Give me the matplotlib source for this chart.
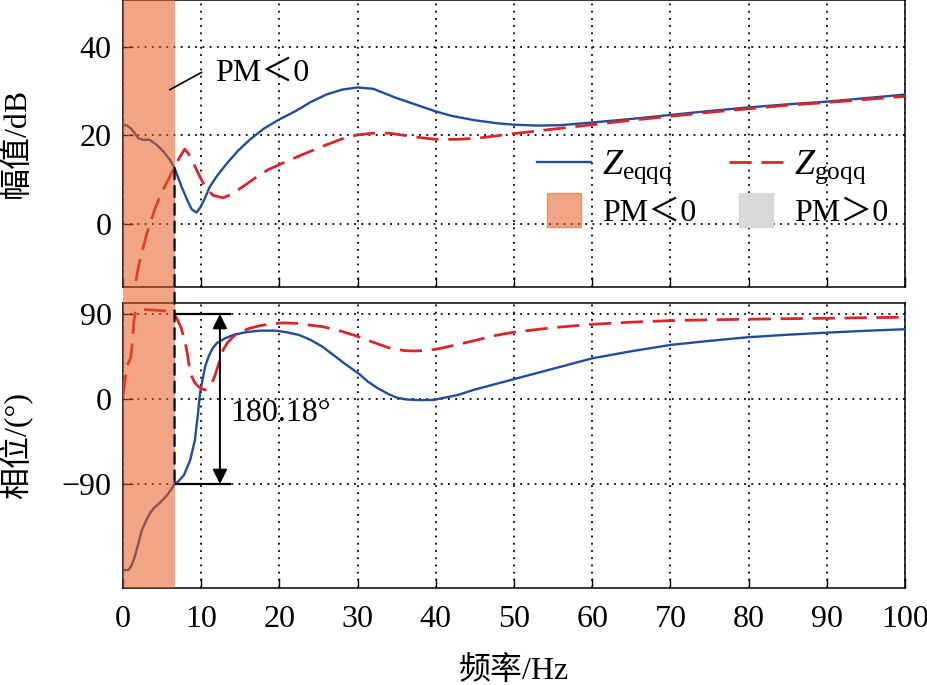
import numpy as np
import matplotlib
matplotlib.use('Agg')
import matplotlib.pyplot as plt
from matplotlib.lines import Line2D
from matplotlib.patches import ConnectionPatch

plt.rcParams['font.family'] = ['Liberation Serif', 'Noto Sans CJK SC']
plt.rcParams['mathtext.fontset'] = 'custom'
plt.rcParams['mathtext.rm'] = 'Liberation Serif'
plt.rcParams['mathtext.it'] = 'Liberation Serif:italic'
plt.rcParams['font.size'] = 23

# ---------------- data ----------------
f_mag_eq = [0, 0.5, 1.0, 1.5, 2.0, 2.6, 3.4, 4.3, 5.2, 6.0, 6.6, 7.5, 8.2, 8.8, 9.4, 9.9,
            10.4, 11.1, 12.0, 13.3, 14.7, 16.2, 18.0, 20, 22, 24, 26, 28, 30, 32, 35, 38,
            40, 42, 45, 48, 50, 53, 56, 60, 65, 70, 75, 80, 85, 90, 95, 100]
mag_eq = [22.4, 22.2, 21.6, 20.5, 19.3, 19.0, 19.0, 17.9, 16.3, 14.5, 12.6, 8.4, 5.5, 3.3, 2.6, 3.8,
          5.5, 8.4, 10.8, 13.7, 16.5, 19.0, 21.5, 23.6, 25.4, 27.5, 29.2, 30.3, 30.8, 30.5, 28.4, 26.6,
          25.4, 24.4, 23.4, 22.7, 22.4, 22.2, 22.3, 22.9, 23.7, 24.6, 25.5, 26.3, 27.0, 27.6, 28.4, 29.2]

f_mag_go = [1.2, 1.5, 2.0, 2.4, 3.0, 3.5, 4.1, 4.7, 5.3, 5.8, 6.6, 7.3, 7.9, 8.4, 9.0, 9.8,
            10.5, 11.5, 12.8, 14.0, 15.3, 17.0, 18.5, 20.5, 23, 25.5, 28, 30, 32, 34, 36, 38,
            40, 43, 46, 50, 55, 60, 65, 70, 75, 80, 85, 90, 95, 100]
mag_go = [-20, -14.2, -9.5, -6.6, -2.5, 0.2, 3.5, 6.1, 8.3, 10.0, 12.9, 15.2, 16.9, 15.8, 13.8, 10.8,
          8.4, 6.5, 5.9, 6.8, 8.4, 10.5, 12.2, 13.8, 15.7, 17.5, 19.2, 20.1, 20.5, 20.5, 20.0, 19.5,
          19.1, 19.1, 19.5, 20.4, 21.4, 22.4, 23.4, 24.3, 25.2, 26.0, 26.8, 27.4, 28.1, 28.8]

f_ph_eq = [0, 0.7, 1.1, 1.5, 2.0, 2.4, 3.0, 3.45, 4.0, 4.7, 5.3, 5.8, 6.3, 6.6, 7.0, 7.8, 8.6,
           9.2, 9.6, 9.85, 10.1, 10.5, 11.0, 11.5, 12.0, 13.0, 14.1, 15.8, 17.5, 19.6, 21.0, 22.5, 24.0,
           25.5, 27.0, 28.5, 30.1, 31.3, 32.6, 34.0, 35.0, 36.2, 38.0, 39.7, 41.0, 42.8, 45.0,
           47.5, 49.9, 55, 60, 65, 70, 75, 79.8, 85, 90, 95, 100]
ph_eq = [-181, -181, -176, -167, -152, -139, -128, -121, -115, -110, -105, -100, -94, -89.3, -88, -80.5, -64.6,
         -43.4, -15, 6, 17, 34, 46, 54, 59, 64, 67.8, 70.8, 72.3, 72.3, 70.5, 67.8, 62.5,
         55.4, 46, 36.5, 27.2, 18.5, 11.3, 5, 1.5, -0.5, -1.2, -1, 1.2, 4.2, 10,
         15.5, 20.8, 32, 43, 50.5, 57.2, 61.5, 65.3, 68, 70.2, 72.2, 73.8]

f_ph_go = [0, 0.2, 0.4, 0.6, 0.8, 1.0, 1.2, 1.4, 1.6, 2.0, 3.0, 4.0, 5.0, 6.0, 6.5, 6.9, 7.4,
           7.9, 8.3, 8.6, 9.2, 9.8, 10.5, 11.1, 11.6, 12.0, 12.4, 12.8, 13.4, 14.1, 15.0, 16.2,
           17.5, 18.8, 20.5, 22.5, 24, 25.5, 28, 30.1, 32, 34.2, 36, 37.2, 38.5, 40, 42.5, 45.3,
           47.5, 49.9, 55, 60, 65, 70, 75, 80, 85, 90, 95, 100]
ph_go = [2.5, 15, 28, 36, 40, 44, 60, 82, 93, 95, 94.5, 94, 93.5, 92.8, 91, 85, 76,
         62.5, 45, 27.2, 17, 12, 9.5, 13, 21, 30.7, 42, 51.9, 60, 66, 71, 74.8,
         77.5, 79.4, 80.5, 80, 78, 76.6, 71.5, 66, 60, 53.6, 51.2, 50.8, 51.2, 52.6, 57, 62.5,
         67, 70.6, 75.5, 79, 81.3, 82.9, 83.8, 84.4, 85, 85.4, 86, 86.5]

pm_boundary = 6.6
x_ticks = list(range(0, 101, 10))
mag_ticks = [0, 20, 40]
ph_ticks = [-90, 0, 90]
phase_jump_label = '180.18°'
legend_labels = [r'$Z_{\mathrm{eqqq}}$', r'$Z_{\mathrm{goqq}}$', 'PM＜0', 'PM＞0']

# ---------------- style ----------------
blue = '#1f4e9c'
red = '#d9262a'
orange = (231/255, 89/255, 28/255)
orange_alpha = 0.54
gray = '#d9d9d9'
dash = (0, (8, 3.5))

fig = plt.figure(figsize=(9.28, 6.85), dpi=100)
ax1 = fig.add_axes([0.1325, 0.581, 0.8427, 0.4195])
ax2 = fig.add_axes([0.1325, 0.1416, 0.8427, 0.4161])

for ax in (ax1, ax2):
    ax.set_xlim(0, 100)
    ax.set_xticks(x_ticks)
    ax.grid(True, color='k', linestyle=(0, (1, 3)), linewidth=1.3)
    ax.tick_params(direction='in', length=7, width=1.0, pad=8)
    ax.tick_params(axis='x', pad=12)
    for s in ax.spines.values():
        s.set_linewidth(1.1)

ax1.plot(f_mag_eq, mag_eq, color=blue, lw=1.7, zorder=3)
ax1.plot(f_mag_go, mag_go, color=red, lw=2.0, ls=dash, zorder=3)
ax1.set_ylim(-14.2, 50.6)
ax1.set_yticks(mag_ticks)
ax1.tick_params(labelbottom=False)
ax1.axvspan(0, pm_boundary, color=orange, alpha=orange_alpha, lw=0, zorder=5)

ax2.plot(f_ph_eq, ph_eq, color=blue, lw=1.7, zorder=3)
ax2.plot(f_ph_go, ph_go, color=red, lw=2.0, ls=dash, zorder=3)
ax2.set_ylim(-200, 101.6)
ax2.set_yticks(ph_ticks)
ax2.axvspan(0, pm_boundary, ymin=0, ymax=1 + 16/285, color=orange,
            alpha=orange_alpha, lw=0, zorder=5, clip_on=False)

ax1.set_ylabel('幅值/dB')
ax2.set_ylabel('相位/(°)')
ax2.set_xlabel('频率/Hz', labelpad=16)
ax1.yaxis.set_label_coords(-0.116, 0.5)
ax2.yaxis.set_label_coords(-0.116, 0.5)

# annotations
ax1.plot([6.0, 10.06], [30.3, 34.2], color='k', lw=1.2, zorder=6)
ax1.text(11.8, 34.0, 'PM＜0', ha='left', va='center', zorder=6)

con = ConnectionPatch(xyA=(pm_boundary, 12.6), coordsA=ax1.transData,
                      xyB=(pm_boundary, -90), coordsB=ax2.transData,
                      color='k', lw=1.6, ls=(0, (5, 3)), zorder=7)
fig.add_artist(con)

ax2.plot([pm_boundary, 13.8], [90, 90], color='k', lw=1.6, zorder=6, solid_capstyle='butt')
ax2.plot([pm_boundary, 13.8], [-90, -90], color='k', lw=1.6, zorder=6, solid_capstyle='butt')
ax2.annotate('', xy=(12.4, 90), xytext=(12.4, -90),
             arrowprops=dict(arrowstyle='<|-|>', color='k', lw=1.4,
                             mutation_scale=22, shrinkA=0, shrinkB=0), zorder=6)
ax2.text(13.7, -15, phase_jump_label, ha='left', va='center', zorder=6)

handles = [Line2D([], [], color=blue, lw=1.7),
           Line2D([], [], marker='s', ms=24, color=orange, alpha=orange_alpha, ls='None'),
           Line2D([], [], color=red, lw=2.0, ls=dash),
           Line2D([], [], marker='s', ms=24, color=gray, ls='None')]
labels = [legend_labels[0], legend_labels[2], legend_labels[1], legend_labels[3]]
leg = ax1.legend(handles, labels, ncol=2, frameon=False, loc='center',
                 bbox_to_anchor=(0.754, 0.345), handlelength=1.7, handletextpad=0.35,
                 columnspacing=1.0, labelspacing=0.4, borderpad=0.2)
for t in leg.get_texts():
    if t.get_text().startswith('$'):
        t.set_fontsize(26)
leg.set_zorder(8)

fig.savefig('out.png', dpi=100)
